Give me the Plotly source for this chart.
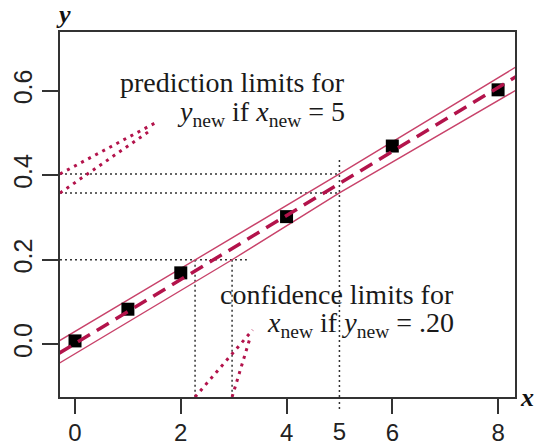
import plotly.graph_objects as go

# ---- data ----
x_obs = [0, 1, 2, 4, 6, 8]
y_obs = [0.008, 0.083, 0.169, 0.302, 0.469, 0.602]

fit_x = [-0.3, 8.35]
fit_y = [-0.021, 0.634]

upper_x = [-0.3, 2.27, 5, 8.35]
upper_y = [0.008, 0.200, 0.403, 0.657]
lower_x = [-0.3, 2.97, 5, 8.35]
lower_y = [-0.045, 0.200, 0.358, 0.602]

x_new_pred = 5
pred_limits = [0.358, 0.403]
y_new_conf = 0.20
conf_limits = [2.27, 2.97]

x_range = [-0.284, 8.32]
y_range = [-0.1247, 0.7388]

x_ticks = [0, 2, 4, 6, 8]
y_ticks = [0.0, 0.2, 0.4, 0.6]
y_ticktext = ["0.0", "0.2", "0.4", "0.6"]

# leader lines from limits to labels
lead_pred_1 = ([x_range[0], 1.55], [0.403, 0.526])
lead_pred_2 = ([x_range[0], 1.45], [0.358, 0.508])
lead_conf_1 = ([2.27, 3.36], [y_range[0], 0.034])
lead_conf_2 = ([2.97, 3.31], [y_range[0], 0.015])

CRIM = "#b3134b"
BAND = "#c8426a"
GRID = "#333333"

fig = go.Figure()

# reference dotted lines
def dotted(xs, ys):
    fig.add_trace(go.Scatter(x=xs, y=ys, mode="lines",
                             line=dict(color=GRID, width=1.5, dash="2px,3px"),
                             hoverinfo="skip", showlegend=False))

for lim in pred_limits:
    dotted([x_range[0], x_new_pred], [lim, lim])
dotted([x_new_pred, x_new_pred], [0.436, y_range[0]])
dotted([x_range[0], 3.25], [y_new_conf, y_new_conf])
for lim in conf_limits:
    dotted([lim, lim], [y_new_conf, y_range[0]])

# red leader lines
for xs, ys in (lead_pred_1, lead_pred_2, lead_conf_1, lead_conf_2):
    fig.add_trace(go.Scatter(x=xs, y=ys, mode="lines",
                             line=dict(color=CRIM, width=3, dash="3px,5px"),
                             hoverinfo="skip", showlegend=False))

# band lines
fig.add_trace(go.Scatter(x=upper_x, y=upper_y, mode="lines",
                         line=dict(color=BAND, width=1.4), showlegend=False))
fig.add_trace(go.Scatter(x=lower_x, y=lower_y, mode="lines",
                         line=dict(color=BAND, width=1.4), showlegend=False))

# observed points
fig.add_trace(go.Scatter(x=x_obs, y=y_obs, mode="markers",
                         marker=dict(symbol="square", size=13, color="black"),
                         showlegend=False))

# fitted line
fig.add_trace(go.Scatter(x=fit_x, y=fit_y, mode="lines",
                         line=dict(color=CRIM, width=3.5, dash="14px,8px"),
                         showlegend=False))

# invisible trace for the "5" label axis
fig.add_trace(go.Scatter(x=[x_new_pred], y=[0.3], xaxis="x2", mode="markers",
                         marker=dict(opacity=0), hoverinfo="skip", showlegend=False))

serif = "Liberation Serif"
sans = "Liberation Sans"

fig.update_layout(
    width=535, height=446,
    margin=dict(l=60, r=20, t=32, b=49, autoexpand=False),
    plot_bgcolor="white", paper_bgcolor="white",
    xaxis=dict(range=x_range, tickvals=x_ticks, ticks="outside", ticklen=15,
               tickwidth=1.5, tickcolor=GRID, showline=True, linecolor=GRID,
               linewidth=1.5, mirror=True, showgrid=False, zeroline=False,
               ticklabelstandoff=-2,
               tickfont=dict(family=sans, size=24, color="#222")),
    xaxis2=dict(range=x_range, overlaying="x", side="bottom", tickvals=[x_new_pred],
                ticks="outside", ticklen=15, tickcolor="rgba(0,0,0,0)",
                showline=False, showgrid=False, zeroline=False,
                ticklabelstandoff=-2,
                tickfont=dict(family=sans, size=24, color="#222")),
    yaxis=dict(range=y_range, tickvals=y_ticks, ticktext=y_ticktext,
               ticks="outside", ticklen=16, tickwidth=1.5, tickcolor=GRID,
               showline=True, linecolor=GRID, linewidth=1.5, mirror=True,
               showgrid=False, zeroline=False, tickangle=-90,
               tickfont=dict(family=sans, size=25, color="#222")),
    shapes=[dict(type="line", xref="x", yref="paper", x0=x_new_pred, x1=x_new_pred,
                 y0=0, y1=-0.036, line=dict(color=GRID, width=1.5, dash="2px,3px"))],
)

def label(text, x, y, size=28):
    fig.add_annotation(text=text, x=x, y=y, xref="x", yref="y", showarrow=False,
                       xanchor="right", yanchor="middle",
                       font=dict(family=serif, size=size, color="#1a1a1a"))

label("prediction limits for", 5.14, 0.620)
label("<i>y</i><sub>new</sub> if <i>x</i><sub>new</sub> = 5", 5.14, 0.545)
label("confidence limits for", 7.2, 0.118)
label("<i>x</i><sub>new</sub> if <i>y</i><sub>new</sub> = .20", 7.2, 0.046)

fig.add_annotation(text="<b><i>y</i></b>", xref="paper", yref="paper", x=0.008, y=1.0,
                   xanchor="center", yanchor="middle", showarrow=False, yshift=18,
                   font=dict(family=serif, size=26, color="#111"))
fig.add_annotation(text="<b><i>x</i></b>", xref="paper", yref="paper", x=1.0, y=0.0,
                   xanchor="left", yanchor="middle", showarrow=False, xshift=3,
                   font=dict(family=serif, size=26, color="#111"))

fig.write_html("out.html")
